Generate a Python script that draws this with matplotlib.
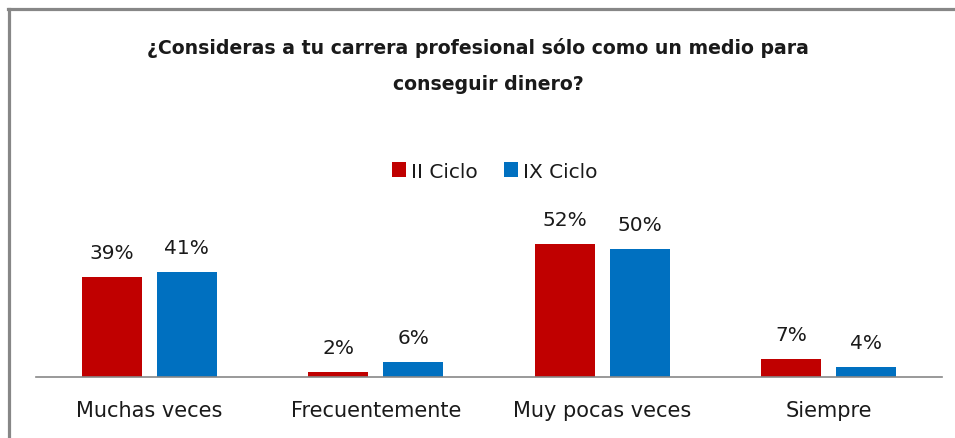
import matplotlib
matplotlib.use("Agg")
import matplotlib.pyplot as plt
from matplotlib.lines import Line2D
import numpy as np

categories = ["Muchas veces", "Frecuentemente", "Muy pocas veces", "Siempre"]
series_names = ["II Ciclo", "IX Ciclo"]
ii_ciclo = [39, 2, 52, 7]
ix_ciclo = [41, 6, 50, 4]

title_lines = ["¿Consideras a tu carrera profesional sólo como un medio para",
               "conseguir dinero?"]

RED = "#C00000"
BLUE = "#0070C0"
GRAY = "#878787"

plt.rcParams["font.family"] = ["DejaVu Sans"]

W, H = 955, 439
fig = plt.figure(figsize=(W / 100, H / 100), dpi=100)

# outer frame (only top and left edges visible)
fig.add_artist(Line2D([8 / W, 1], [1 - 9.5 / H, 1 - 9.5 / H], color=GRAY, lw=2.3,
                      transform=fig.transFigure))
fig.add_artist(Line2D([8.5 / W, 8.5 / W], [0, 1 - 9.5 / H], color=GRAY, lw=2.3,
                      transform=fig.transFigure))

ax = fig.add_axes([36 / W, (H - 378) / H, 906 / W, 179 / H])

x = np.arange(len(categories))
w = 0.265
off = 0.166
b1 = ax.bar(x - off, ii_ciclo, w, color=RED, label=series_names[0])
b2 = ax.bar(x + off, ix_ciclo, w, color=BLUE, label=series_names[1])

for bars, vals in ((b1, ii_ciclo), (b2, ix_ciclo)):
    for r, v in zip(bars, vals):
        ax.annotate(f"{v}%", (r.get_x() + r.get_width() / 2, v),
                    xytext=(0, 13.7), textcoords="offset points",
                    ha="center", va="baseline", fontsize=14.5, color="#1a1a1a")

ax.set_xlim(-0.5, len(categories) - 0.5)
ax.set_ylim(0, 70)
ax.set_xticks(x)
ax.set_xticklabels(categories, fontsize=15, color="#1a1a1a")
ax.tick_params(axis="x", length=0, pad=16.5)
ax.set_yticks([])
for s in ("top", "right", "left"):
    ax.spines[s].set_visible(False)
ax.spines["bottom"].set_color(GRAY)
ax.spines["bottom"].set_linewidth(1.2)

fig.text(478 / W, 1 - 48 / H, title_lines[0], ha="center", va="center",
         fontsize=13.6, fontweight="bold", color="#1a1a1a")
fig.text(488 / W, 1 - 85 / H, title_lines[1], ha="center", va="center",
         fontsize=13.6, fontweight="bold", color="#1a1a1a")

fig.legend(handles=[b1, b2], labels=series_names, loc="center",
           bbox_to_anchor=(494.5 / W, 1 - 172 / H), ncol=2, frameon=False,
           fontsize=14.5, handlelength=0.7, handleheight=0.7,
           handletextpad=0.25, columnspacing=1.3, labelcolor="#1a1a1a")

fig.savefig("out.png", dpi=100, facecolor="white")
